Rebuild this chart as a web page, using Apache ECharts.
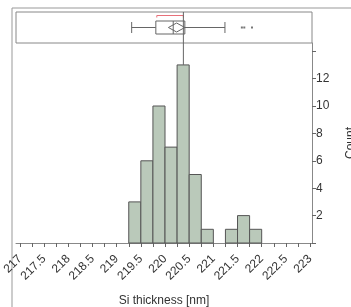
<!DOCTYPE html>
<html>
<head>
<meta charset="utf-8">
<script src="https://cdn.jsdelivr.net/npm/echarts@6/dist/echarts.min.js"></script>
<style>
  html, body { margin: 0; padding: 0; background: #fff; }
  #chart { width: 351px; height: 307px; }
</style>
</head>
<body>
<div id="chart"></div>
<script>
// histogram bins (left edge) and counts
var binStart = [219.25, 219.5, 219.75, 220, 220.25, 220.5, 220.75, 221, 221.25, 221.5, 221.75];
var counts = [3, 6, 10, 7, 13, 5, 1, 0, 1, 2, 1];
var binWidth = 0.25;

// outlier box plot: whisker low, Q1, median, Q3, whisker high
var boxStats = [219.31, 219.81, 220.17, 220.41, 221.24];
var meanDiamond = [220.07, 220.24, 220.41]; // lower CI, mean, upper CI
var shortestHalf = [219.83, 220.38];
var outliers = [221.59, 221.64, 221.8];
var refLine = 220.38;

var xTickLabels = [217, 217.5, 218, 218.5, 219, 219.5, 220, 220.5, 221, 221.5, 222, 222.5, 223];
var xMinorTicks = [];
for (var i = 0; i <= 24; i++) xMinorTicks.push(217 + i * 0.25);
var yTickLabels = [2, 4, 6, 8, 10, 12];
var yTicks = [0, 2, 4, 6, 8, 10, 12, 14];

var lineCol = '#666';
var textCol = '#333';

var chart = echarts.init(document.getElementById('chart'));

function xAxisBase(gridIndex, showLabels) {
  return {
    type: 'value',
    gridIndex: gridIndex,
    min: 216.917,
    max: 223.041,
    splitLine: { show: false },
    axisLine: { show: showLabels, lineStyle: { color: '#888', width: 1 } },
    axisTick: { show: showLabels, customValues: xMinorTicks, length: 4, lineStyle: { color: lineCol } },
    axisLabel: {
      show: showLabels, customValues: xTickLabels, rotate: 45, margin: 14,
      fontFamily: 'Liberation Sans', fontSize: 12, color: textCol,
      formatter: function (v) { return String(v); }
    }
  };
}

var histX = xAxisBase(1, true);
histX.name = 'Si thickness [nm]';
histX.nameLocation = 'middle';
histX.nameGap = 52;
histX.nameMoveOverlap = false;
histX.nameTextStyle = { fontFamily: 'Liberation Sans', fontSize: 12, color: textCol };

var option = {
  animation: false,
  graphic: [
    { type: 'line', shape: { x1: 12, y1: 8, x2: 351, y2: 8 }, style: { stroke: '#999', lineWidth: 1 } },
    { type: 'line', shape: { x1: 12, y1: 8, x2: 12, y2: 307 }, style: { stroke: '#999', lineWidth: 1 } }
  ],
  grid: [
    { left: 16, right: 39, top: 12, height: 31, show: true, borderColor: '#888', borderWidth: 1, backgroundColor: 'transparent', outerBoundsMode: 'none' },
    { left: 16, right: 39, top: 43, bottom: 64, outerBoundsMode: 'none' }
  ],
  xAxis: [xAxisBase(0, false), histX],
  yAxis: [
    { type: 'value', gridIndex: 0, min: 0, max: 1, show: false },
    {
      type: 'value', gridIndex: 1, position: 'right', min: 0, max: 14.6,
      splitLine: { show: false },
      axisLine: { show: true, lineStyle: { color: '#888' } },
      axisTick: { show: true, inside: false, length: 4, customValues: yTicks, lineStyle: { color: lineCol } },
      axisLabel: {
        margin: 4, customValues: yTickLabels, fontFamily: 'Liberation Sans', fontSize: 12, color: textCol
      },
      name: 'Count', nameLocation: 'middle', nameRotate: 90, nameGap: 33, nameMoveOverlap: false,
      nameTextStyle: { fontFamily: 'Liberation Sans', fontSize: 12, color: textCol }
    }
  ],
  series: [
    {
      type: 'custom',
      xAxisIndex: 1, yAxisIndex: 1,
      data: binStart.map(function (s, i) { return [s, counts[i]]; }),
      renderItem: function (params, api) {
        var h = api.value(1);
        if (!h) return null;
        var p0 = api.coord([api.value(0), h]);
        var p1 = api.coord([api.value(0) + binWidth, 0]);
        return {
          type: 'rect',
          shape: { x: p0[0], y: p0[1], width: p1[0] - p0[0], height: p1[1] - p0[1] },
          style: { fill: '#bac9ba', stroke: '#555', lineWidth: 1 }
        };
      }
    },
    {
      // reference line continuing into histogram down to tallest bar
      type: 'custom',
      xAxisIndex: 1, yAxisIndex: 1,
      data: [[refLine, Math.max.apply(null, counts)]],
      renderItem: function (params, api) {
        var p = api.coord([api.value(0), api.value(1)]);
        return {
          type: 'line',
          shape: { x1: p[0], y1: params.coordSys.y, x2: p[0], y2: p[1] },
          style: { stroke: lineCol, lineWidth: 1 }
        };
      }
    },
    {
      type: 'custom',
      xAxisIndex: 0, yAxisIndex: 0,
      data: [boxStats],
      renderItem: function (params, api) {
        var cy = api.coord([boxStats[0], 0.5])[1];
        function X(v) { return api.coord([v, 0.5])[0]; }
        var bh = 6.5, wh = 5.5, dh = 4.5;
        var st = { stroke: lineCol, lineWidth: 1, fill: null };
        var ch = [];
        ch.push({ type: 'line', shape: { x1: X(boxStats[0]), y1: cy, x2: X(boxStats[1]), y2: cy }, style: st });
        ch.push({ type: 'line', shape: { x1: X(boxStats[3]), y1: cy, x2: X(boxStats[4]), y2: cy }, style: st });
        ch.push({ type: 'line', shape: { x1: X(boxStats[0]), y1: cy - wh, x2: X(boxStats[0]), y2: cy + wh }, style: st });
        ch.push({ type: 'line', shape: { x1: X(boxStats[4]), y1: cy - wh, x2: X(boxStats[4]), y2: cy + wh }, style: st });
        ch.push({ type: 'rect', shape: { x: X(boxStats[1]), y: cy - bh, width: X(boxStats[3]) - X(boxStats[1]), height: bh * 2 }, style: { stroke: lineCol, lineWidth: 1, fill: '#fff' } });
        ch.push({ type: 'line', shape: { x1: X(boxStats[2]), y1: cy - bh, x2: X(boxStats[2]), y2: cy + bh }, style: st });
        ch.push({ type: 'polygon', shape: { points: [[X(meanDiamond[0]), cy], [X(meanDiamond[1]), cy - dh], [X(meanDiamond[2]), cy], [X(meanDiamond[1]), cy + dh]] }, style: st });
        // shortest half bracket
        var by = params.coordSys.y + 3.5;
        ch.push({ type: 'polyline', shape: { points: [[X(shortestHalf[0]), by + 2], [X(shortestHalf[0]), by], [X(shortestHalf[1]), by], [X(shortestHalf[1]), by + 2]] }, style: { stroke: '#e8707a', lineWidth: 1, fill: null } });
        // reference line through the panel
        ch.push({ type: 'line', shape: { x1: X(refLine), y1: params.coordSys.y, x2: X(refLine), y2: params.coordSys.y + params.coordSys.height }, style: st });
        outliers.forEach(function (o) {
          ch.push({ type: 'rect', shape: { x: X(o) - 1, y: cy - 1, width: 2, height: 2 }, style: { fill: '#777' } });
        });
        return { type: 'group', children: ch };
      }
    }
  ]
};

chart.setOption(option);
</script>
</body>
</html>
